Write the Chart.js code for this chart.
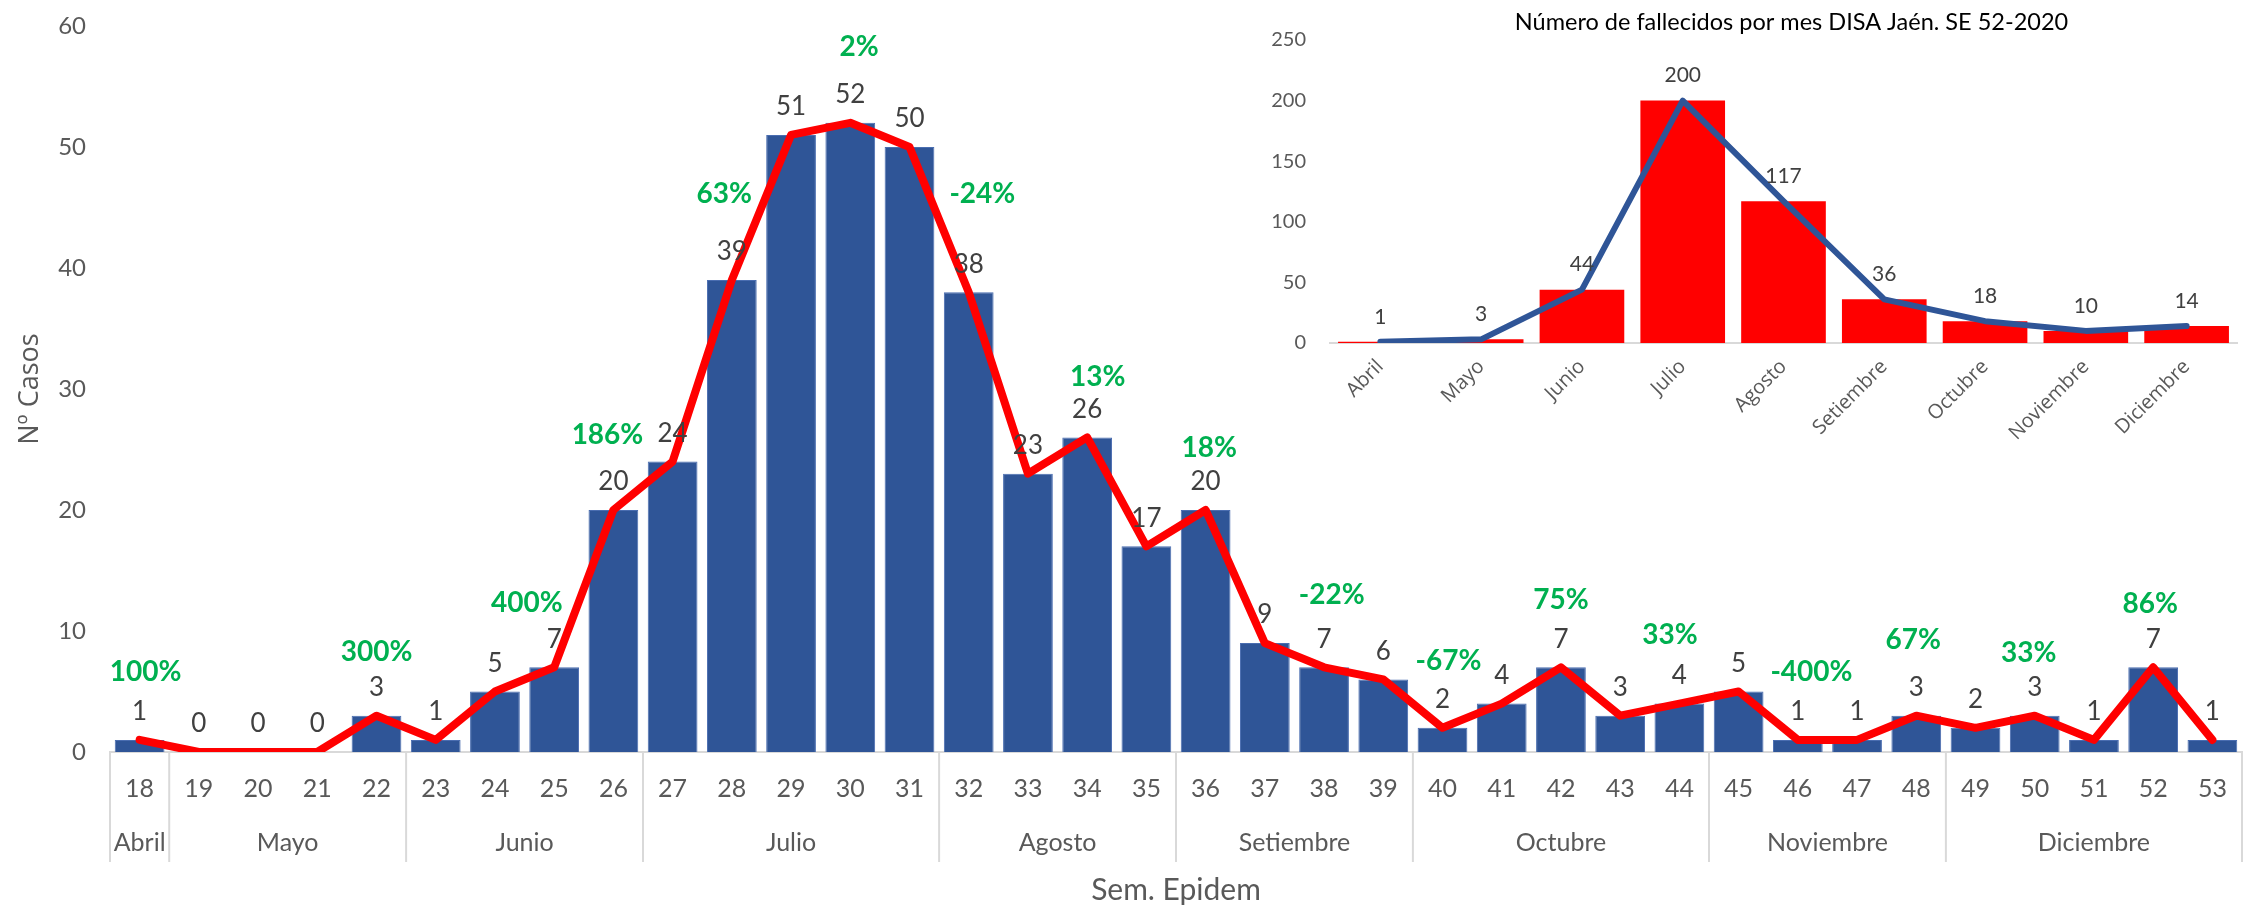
<!DOCTYPE html>
<html lang="es">
<head>
<meta charset="utf-8">
<title>Casos por semana epidemiológica - DISA Jaén</title>
<script src="https://cdn.jsdelivr.net/npm/chart.js@4.4.1/dist/chart.umd.min.js"></script>
<style>
  body { margin: 0; background: #fff; }
  #wrap { position: relative; width: 2249px; height: 908px; }
  #main { position: absolute; left: 0; top: 0; }
  #inset { position: absolute; left: 1240px; top: 0; }
</style>
</head>
<body>
<div id="wrap">
  <canvas id="main" width="2249" height="908"></canvas>
  <canvas id="inset" width="1009" height="470"></canvas>
</div>
<script>
// semanas epidemiologicas y casos
const semanas = ['18','19','20','21','22','23','24','25','26','27','28','29','30','31','32','33','34','35',
                 '36','37','38','39','40','41','42','43','44','45','46','47','48','49','50','51','52','53'];
const casos = [1,0,0,0,3,1,5,7,20,24,39,51,52,50,38,23,26,17,
               20,9,7,6,2,4,7,3,4,5,1,1,3,2,3,1,7,1];

// meses del eje (nº de semanas de cada uno)
const meses = ['Abril','Mayo','Junio','Julio','Agosto','Setiembre','Octubre','Noviembre','Diciembre'];
const semanasPorMes = [1,4,4,5,4,4,5,4,5];

// variaciones en verde: texto, semana donde va, altura (en nº casos)
const pctTexto  = ['100%','300%','400%','186%','63%','2%','-24%','13%','18%','-22%','-67%','75%','33%','-400%','67%','33%','86%'];
const pctSemana = [18.1,22,24.54,25.9,27.87,30.15,32.23,34.18,36.06,38.13,40.1,42,43.84,46.23,47.95,49.9,51.95];
const pctAltura = [6.6,8.3,12.3,26.2,46.1,58.3,46.1,31.0,25.1,13.0,7.5,12.6,9.7,6.6,9.3,8.2,12.2];

// grafico pequeño: fallecidos por mes
const mesesFall = ['Abril','Mayo','Junio','Julio','Agosto','Setiembre','Octubre','Noviembre','Diciembre'];
const fallecidos = [1,3,44,200,117,36,18,10,14];
const tituloFall = 'Número de fallecidos por mes DISA Jaén. SE 52-2020';

const GRIS = '#595959';
const GRIS_ETQ = '#404040';

// numeros encima de cada punto de la linea
function etiquetasLinea(datasetIndex, font, offset) {
    return {
        id: 'etiquetas' + datasetIndex,
        afterDatasetsDraw(chart) {
            const ctx = chart.ctx;
            const meta = chart.getDatasetMeta(datasetIndex);
            const data = chart.data.datasets[datasetIndex].data;
            ctx.save();
            ctx.font = font;
            ctx.fillStyle = GRIS_ETQ;
            ctx.textAlign = 'center';
            ctx.textBaseline = 'middle';
            meta.data.forEach((pt, i) => {
                ctx.fillText(String(data[i]), pt.x, pt.y - offset);
            });
            ctx.restore();
        }
    };
}

const porcentajes = {
    id: 'porcentajes',
    afterDatasetsDraw(chart) {
        const ctx = chart.ctx;
        const x = chart.scales.x, y = chart.scales.y;
        ctx.save();
        ctx.font = 'bold 28px Lato';
        ctx.fillStyle = '#00B050';
        ctx.textAlign = 'center';
        ctx.textBaseline = 'middle';
        pctTexto.forEach((t, i) => {
            ctx.fillText(t, x.getPixelForValue(pctSemana[i] - 18), y.getPixelForValue(pctAltura[i]));
        });
        ctx.restore();
    }
};

// segunda fila del eje x con los meses
const ejeMeses = {
    id: 'ejeMeses',
    afterDraw(chart) {
        const ctx = chart.ctx;
        const x = chart.scales.x;
        const half = (x.getPixelForValue(1) - x.getPixelForValue(0)) / 2;
        const top = x.top;
        ctx.save();
        ctx.strokeStyle = '#D9D9D9';
        ctx.lineWidth = 2;
        ctx.font = '25px Lato';
        ctx.fillStyle = GRIS;
        ctx.textAlign = 'center';
        ctx.textBaseline = 'middle';
        let start = 0;
        const lineAt = px => {
            ctx.beginPath();
            ctx.moveTo(px, top);
            ctx.lineTo(px, top + 110);
            ctx.stroke();
        };
        lineAt(x.getPixelForValue(0) - half);
        meses.forEach((m, i) => {
            const end = start + semanasPorMes[i] - 1;
            const left = x.getPixelForValue(start) - half;
            const right = x.getPixelForValue(end) + half;
            lineAt(right);
            ctx.fillText(m, (left + right) / 2, top + 91);
            start = end + 1;
        });
        ctx.restore();
    }
};

new Chart(document.getElementById('main'), {
    data: {
        labels: semanas,
        datasets: [
            {
                type: 'line',
                data: casos,
                borderColor: '#FF0000',
                borderWidth: 8,
                pointRadius: 0,
                tension: 0,
                borderJoinStyle: 'round',
                borderCapStyle: 'round',
                order: 0
            },
            {
                type: 'bar',
                data: casos,
                backgroundColor: '#2F5597',
                borderColor: '#4A6DB0',
                borderWidth: 1,
                barPercentage: 0.84,
                categoryPercentage: 1,
                order: 1
            }
        ]
    },
    options: {
        responsive: false,
        animation: false,
        layout: { padding: { left: 0, right: 7, top: 26, bottom: 0 } },
        plugins: { legend: { display: false }, tooltip: { enabled: false } },
        scales: {
            x: {
                grid: { display: false, drawTicks: false },
                border: { display: true, color: '#D9D9D9', width: 2 },
                ticks: { color: GRIS, font: { family: 'Lato', size: 25 }, padding: 22, maxRotation: 0, autoSkip: false },
                title: { display: true, text: 'Sem. Epidem', color: GRIS, font: { family: 'Lato', size: 30 }, padding: { top: 0, bottom: 0 } },
                afterFit(scale) { scale.height = 156; }
            },
            y: {
                min: 0,
                max: 60,
                grid: { display: false, drawTicks: false },
                border: { display: false },
                ticks: { stepSize: 10, color: GRIS, font: { family: 'Lato', size: 24 }, padding: 24 },
                title: { display: true, text: 'Nº Casos', color: GRIS, font: { family: 'Open Sans', size: 27 }, padding: { top: 14, bottom: 0 } },
                afterFit(scale) {
                    scale.width = 110;
                    scale.paddingTop = 0;
                    scale.paddingBottom = 0;
                }
            }
        }
    },
    plugins: [etiquetasLinea(0, '26px Lato', 28), porcentajes, ejeMeses]
});

const tituloInset = {
    id: 'tituloInset',
    afterDraw(chart) {
        const ctx = chart.ctx;
        const a = chart.chartArea;
        ctx.save();
        ctx.font = '23.5px Lato';
        ctx.fillStyle = '#000';
        ctx.textAlign = 'center';
        ctx.textBaseline = 'middle';
        ctx.fillText(tituloFall, (a.left + a.right) / 2 + 8, 22);
        ctx.restore();
    }
};

new Chart(document.getElementById('inset'), {
    data: {
        labels: mesesFall,
        datasets: [
            {
                type: 'line',
                data: fallecidos,
                borderColor: '#2F5597',
                borderWidth: 6,
                pointRadius: 0,
                tension: 0,
                borderJoinStyle: 'round',
                borderCapStyle: 'round',
                order: 0
            },
            {
                type: 'bar',
                data: fallecidos,
                backgroundColor: '#FF0000',
                barPercentage: 0.84,
                categoryPercentage: 1,
                order: 1
            }
        ]
    },
    options: {
        responsive: false,
        animation: false,
        layout: { padding: { left: 0, right: 12, top: 40, bottom: 0 } },
        plugins: { legend: { display: false }, tooltip: { enabled: false } },
        scales: {
            x: {
                grid: { display: false, drawTicks: false },
                border: { display: true, color: '#D9D9D9', width: 2 },
                ticks: { color: GRIS, font: { family: 'Open Sans', size: 20 }, padding: 12, minRotation: 45, maxRotation: 45, autoSkip: false },
                afterFit(scale) { scale.height = 127; }
            },
            y: {
                min: 0,
                max: 250,
                grid: { display: false, drawTicks: false },
                border: { display: false },
                ticks: { stepSize: 50, color: GRIS, font: { family: 'Lato', size: 20 }, padding: 24 },
                afterFit(scale) {
                    scale.width = 90;
                    scale.paddingTop = 0;
                    scale.paddingBottom = 0;
                }
            }
        }
    },
    plugins: [etiquetasLinea(0, '21px Lato', 25), tituloInset]
});
</script>
</body>
</html>
